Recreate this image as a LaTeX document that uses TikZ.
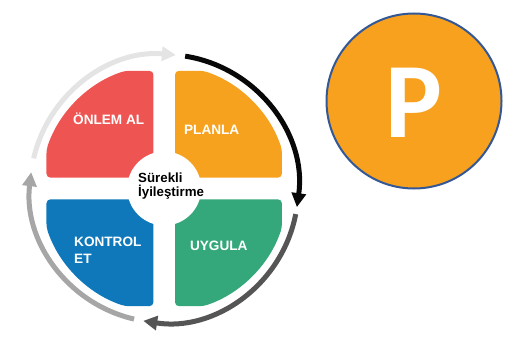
\documentclass[tikz,border=0pt]{standalone}
\usepackage{fontspec}
\setmainfont{Liberation Sans}
\newfontfamily\pfont{Carlito}
\usetikzlibrary{arrows.meta}
\definecolor{qred}{RGB}{238,84,82}
\definecolor{qorange}{RGB}{247,162,30}
\definecolor{qgreen}{RGB}{52,168,122}
\definecolor{qblue}{RGB}{14,120,186}
\definecolor{ringlight}{RGB}{228,228,228}
\definecolor{ringmid}{RGB}{166,166,166}
\definecolor{ringdark}{RGB}{85,85,85}
\definecolor{ringblack}{RGB}{8,8,8}
\definecolor{pfill}{RGB}{247,161,30}
\definecolor{pedge}{RGB}{52,88,150}
\def\quadshape{(10.8,10.8) -- (10.8,117.7) -- (39.03,117.7) arc[start angle=71.67,end angle=18.33,radius=124] -- (117.7,10.8) -- cycle}
\begin{document}
\begin{tikzpicture}[x=1pt,y=1pt,
  quad/.style={rounded corners=4pt},
  ringarrow/.style={line width=5pt,-{Triangle[width=14pt,length=14pt]}},
  lab/.style={text=white,font=\bfseries\fontsize{13.6}{16.6}\selectfont,inner sep=0pt},
  centerlab/.style={text=black,font=\bfseries\fontsize{13.3}{14.4}\selectfont,inner sep=0pt,align=left,anchor=west},
  pcircle/.style={circle,draw=pedge,line width=2pt,fill=pfill,minimum size=175pt,inner sep=0pt}
]
\useasboundingbox (0,0) rectangle (510,340);
\coordinate (C) at (164.2,151.5);
% quadrants
\begin{scope}[shift={(C)}]
  \fill[qorange,quad] \quadshape;
  \begin{scope}[xscale=-1]\fill[qred,quad] \quadshape;\end{scope}
  \begin{scope}[yscale=-1]\fill[qgreen,quad] \quadshape;\end{scope}
  \begin{scope}[scale=-1]\fill[qblue,quad] \quadshape;\end{scope}
\end{scope}
\fill[white] (C) circle[radius=37];
% ring arrows
\draw[ringarrow,ringlight] ([shift={(167:134)}]C) arc[start angle=167,end angle=85,radius=134];
\draw[ringarrow,ringblack] ([shift={(81:134)}]C) arc[start angle=81,end angle=-8,radius=134];
\draw[ringarrow,ringdark] ([shift={(-11:134)}]C) arc[start angle=-11,end angle=-99,radius=134];
\draw[ringarrow,ringmid] ([shift={(-103:134)}]C) arc[start angle=-103,end angle=-187,radius=134];
% labels
\node[lab,anchor=base] (onlem) at (108.7,215) {ÖNLEM AL};
\node[lab,anchor=base] (planla) at (211.7,205) {PLANLA};
\node[lab,anchor=base] (uygula) at (218.8,90) {UYGULA};
\node[lab,anchor=west,align=left] (kontrol) at (74,89.6) {KONTROL\\ET};
\node[centerlab] (surekli) at (138,153.9) {Sürekli\\İyileştirme};
% P circle
\node[pcircle] (pc) at (414,239) {};
\node[text=white,inner sep=0pt,font=\pfont\bfseries\fontsize{107}{107}\selectfont] (pletter) at (414,237.5) {P};
\end{tikzpicture}
\end{document}
